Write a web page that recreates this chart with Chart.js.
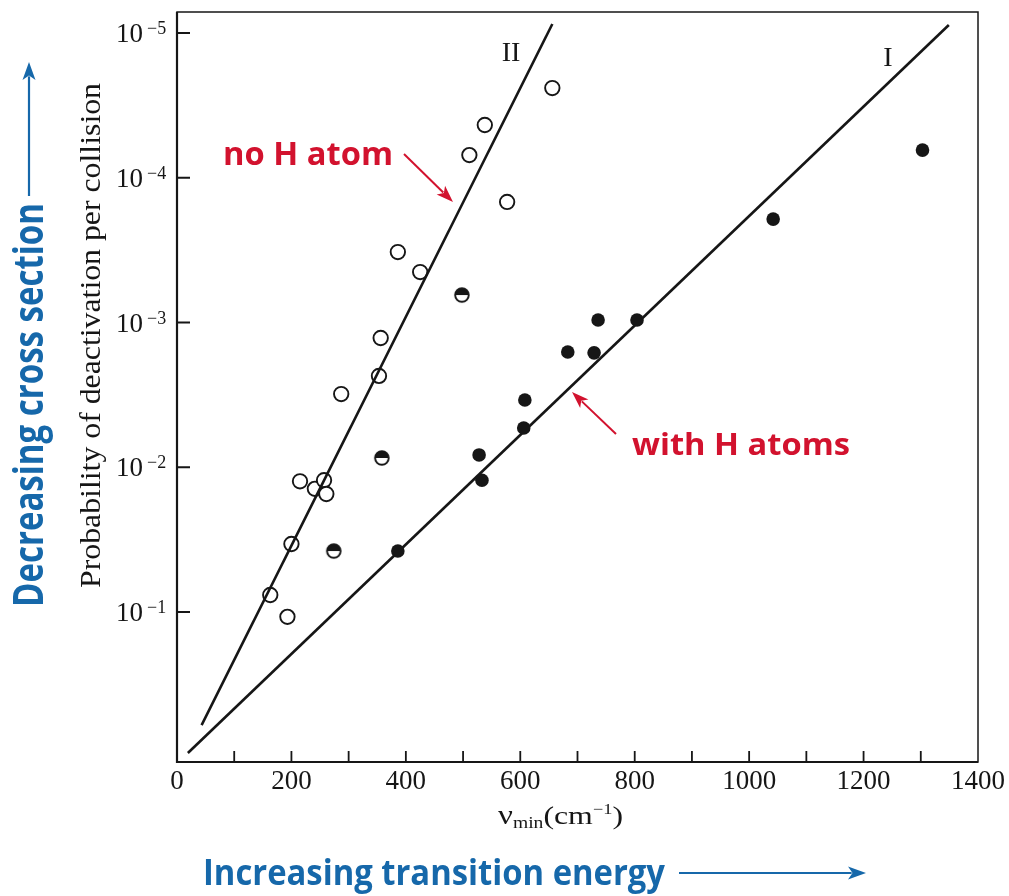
<!DOCTYPE html>
<html>
<head>
<meta charset="utf-8">
<script src="https://cdn.jsdelivr.net/npm/chart.js@4.4.1/dist/chart.umd.min.js"></script>
<style>
  html, body { margin: 0; padding: 0; background: #fff; }
  #wrap { width: 1009px; height: 896px; position: relative; }
</style>
</head>
<body>
<div id="wrap"><canvas id="chart"></canvas></div>
<script>
// nu_min (cm^-1) against probability of deactivation per collision
const openX = [163, 193, 200, 215, 241, 257, 261, 287, 353, 356, 386, 425, 511, 538, 577, 656];
const openY = [0.0763, 0.108, 0.0339, 0.0125, 0.0141, 0.0123, 0.0153, 0.00312, 0.00234, 0.00128,
               3.26e-4, 4.48e-4, 6.97e-5, 4.32e-5, 1.47e-4, 2.40e-5];
const halfX = [274, 358, 498];
const halfY = [0.0379, 0.00863, 6.46e-4];
const filledX = [386, 528, 533, 606, 608, 683, 729, 736, 804, 1042, 1303];
const filledY = [0.0379, 0.00822, 0.0123, 0.00536, 0.00343, 0.0016, 0.00162, 9.6e-4, 9.6e-4, 1.93e-4, 6.44e-5];

// fitted lines, end points
const lineIIX = [43, 656];
const lineIIY = [0.604, 8.67e-6];
const lineIX = [19, 1349];
const lineIY = [0.942, 8.8e-6];

const xTickValues = [0, 200, 400, 600, 800, 1000, 1200, 1400];
const xTickLabels = ['0', '200', '400', '600', '800', '1000', '1200', '1400'];
const yTickValues = [1e-1, 1e-2, 1e-3, 1e-4, 1e-5];
const yTickExponents = ['\u22121', '\u22122', '\u22123', '\u22124', '\u22125'];

const INK = '#161616';
const RED = '#d2122e';
const BLUE = '#1668aa';

function pts(xs, ys) {
  return xs.map((x, i) => ({ x: x, y: ys[i] }));
}

function halfDot() {
  const c = document.createElement('canvas');
  c.width = 18; c.height = 18;
  const g = c.getContext('2d');
  g.beginPath();
  g.arc(9, 9, 6.8, 0, 2 * Math.PI);
  g.fillStyle = '#fff';
  g.fill();
  g.beginPath();
  g.arc(9, 9, 6.8, Math.PI, 2 * Math.PI);
  g.closePath();
  g.fillStyle = INK;
  g.fill();
  g.beginPath();
  g.arc(9, 9, 6.8, 0, 2 * Math.PI);
  g.lineWidth = 1.9;
  g.strokeStyle = INK;
  g.stroke();
  return c;
}

function fitText(ctx, text, x, y, width, font, color, angle) {
  ctx.save();
  ctx.font = font;
  ctx.fillStyle = color;
  ctx.textAlign = 'left';
  ctx.textBaseline = 'alphabetic';
  ctx.translate(x, y);
  if (angle) ctx.rotate(angle);
  const w = ctx.measureText(text).width;
  ctx.scale(width / w, 1);
  ctx.fillText(text, 0, 0);
  ctx.restore();
}

function arrow(ctx, x1, y1, x2, y2, color, lw, hl, hw) {
  const a = Math.atan2(y2 - y1, x2 - x1);
  ctx.save();
  ctx.strokeStyle = color;
  ctx.fillStyle = color;
  ctx.lineWidth = lw;
  ctx.beginPath();
  ctx.moveTo(x1, y1);
  ctx.lineTo(x2 - Math.cos(a) * hl * 0.8, y2 - Math.sin(a) * hl * 0.8);
  ctx.stroke();
  ctx.translate(x2, y2);
  ctx.rotate(a);
  ctx.beginPath();
  ctx.moveTo(0, 0);
  ctx.lineTo(-hl, -hw / 2);
  ctx.lineTo(-hl * 0.75, 0);
  ctx.lineTo(-hl, hw / 2);
  ctx.closePath();
  ctx.fill();
  ctx.restore();
}

const decorations = {
  id: 'decorations',
  afterDraw(chart) {
    const ctx = chart.ctx;
    const a = chart.chartArea;
    const xs = chart.scales.x;
    const ys = chart.scales.y;

    // frame
    ctx.save();
    ctx.strokeStyle = INK;
    ctx.lineWidth = 1.5;
    ctx.strokeRect(a.left, a.top, a.right - a.left, a.bottom - a.top);
    ctx.lineWidth = 2.2;
    ctx.beginPath();
    ctx.moveTo(a.left, a.top);
    ctx.lineTo(a.left, a.bottom);
    ctx.lineTo(a.right, a.bottom);
    ctx.stroke();

    // inward tick marks
    ctx.lineWidth = 1.8;
    ctx.beginPath();
    xs.ticks.forEach(t => {
      if (t.value <= xs.min || t.value >= xs.max) return;
      const px = xs.getPixelForValue(t.value);
      ctx.moveTo(px, a.bottom);
      ctx.lineTo(px, a.bottom - 11);
    });
    ys.ticks.forEach(t => {
      const py = ys.getPixelForValue(t.value);
      ctx.moveTo(a.left, py);
      ctx.lineTo(a.left + 13, py);
    });
    ctx.stroke();
    ctx.restore();

    // y tick labels: 10 with a raised exponent
    ctx.save();
    ctx.fillStyle = INK;
    ctx.textBaseline = 'alphabetic';
    yTickValues.forEach((v, i) => {
      const py = ys.getPixelForValue(v);
      ctx.font = '27px "Liberation Serif"';
      ctx.textAlign = 'right';
      ctx.fillText('10', a.left - 34, py + 9);
      ctx.font = '18px "Liberation Serif"';
      ctx.textAlign = 'left';
      ctx.fillText(yTickExponents[i], a.left - 30, py + 1);
    });
    ctx.restore();

    // line names
    ctx.save();
    ctx.fillStyle = INK;
    ctx.textAlign = 'center';
    ctx.textBaseline = 'alphabetic';
    ctx.font = '28px "Liberation Serif"';
    ctx.fillText('II', 511, 61);
    ctx.fillText('I', 888, 66);
    ctx.restore();

    // axis titles
    fitText(ctx, 'Probability of deactivation per collision', 100, 588, 505,
            '30px "Liberation Serif"', INK, -Math.PI / 2);

    const parts = [
      { t: '\u03BD', size: 27, dy: 0 },
      { t: 'min', size: 16, dy: 4 },
      { t: '(cm', size: 26, dy: 0 },
      { t: '\u2212', size: 15, dy: -10 },
      { t: '1', size: 15, dy: -10 },
      { t: ')', size: 26, dy: 0 }
    ];
    ctx.save();
    ctx.fillStyle = INK;
    ctx.textBaseline = 'alphabetic';
    ctx.textAlign = 'left';
    let total = 0;
    parts.forEach(p => {
      ctx.font = p.size + 'px "Liberation Serif"';
      p.w = ctx.measureText(p.t).width;
      total += p.w;
    });
    const k = 125 / total;
    let cx = 498;
    parts.forEach(p => {
      ctx.font = p.size + 'px "Liberation Serif"';
      ctx.save();
      ctx.translate(cx, 824 + p.dy);
      ctx.scale(k, 1);
      ctx.fillText(p.t, 0, 0);
      ctx.restore();
      cx += p.w * k;
    });
    ctx.restore();

    // red notes
    fitText(ctx, 'no H atom', 223, 165, 170, 'bold 32px "Open Sans"', RED);
    arrow(ctx, 404, 154, 453, 202, RED, 2, 17, 12);
    fitText(ctx, 'with H atoms', 632, 455, 218, 'bold 31px "Open Sans"', RED);
    arrow(ctx, 616, 434, 572, 392, RED, 2, 17, 12);

    // blue notes
    fitText(ctx, 'Decreasing cross section', 43, 607, 404, 'bold 42px "Open Sans"', BLUE, -Math.PI / 2);
    arrow(ctx, 29, 196, 29, 62, BLUE, 2.2, 18, 13);
    fitText(ctx, 'Increasing transition energy', 203, 885, 462, 'bold 36px "Open Sans"', BLUE);
    arrow(ctx, 679, 873, 866, 873, BLUE, 2.2, 18, 13);
  }
};

const lineStyle = {
  showLine: true,
  borderColor: INK,
  borderWidth: 2.6,
  pointRadius: 0,
  fill: false
};

new Chart(document.getElementById('chart'), {
  type: 'scatter',
  data: {
    datasets: [
      Object.assign({ label: 'II', data: pts(lineIIX, lineIIY) }, lineStyle),
      Object.assign({ label: 'I', data: pts(lineIX, lineIY) }, lineStyle),
      {
        label: 'no H atom',
        data: pts(openX, openY),
        pointStyle: 'circle',
        pointRadius: 7.2,
        pointBorderWidth: 1.9,
        pointBorderColor: INK,
        pointBackgroundColor: '#fff'
      },
      {
        label: 'partial',
        data: pts(halfX, halfY),
        pointStyle: halfDot(),
        pointRadius: 7
      },
      {
        label: 'with H atoms',
        data: pts(filledX, filledY),
        pointStyle: 'circle',
        pointRadius: 6.8,
        pointBorderWidth: 0,
        pointBackgroundColor: INK
      }
    ]
  },
  options: {
    responsive: true,
    maintainAspectRatio: false,
    animation: false,
    layout: { padding: { top: 12, right: 29, left: 0, bottom: 0 } },
    plugins: {
      legend: { display: false },
      tooltip: { enabled: false }
    },
    scales: {
      x: {
        type: 'linear',
        min: 0,
        max: 1400,
        grid: { display: false, drawTicks: false },
        border: { display: false },
        ticks: {
          stepSize: 100,
          autoSkip: false,
          maxRotation: 0,
          padding: 4,
          color: INK,
          font: { family: '"Liberation Serif"', size: 27 },
          callback: v => {
            const i = xTickValues.indexOf(v);
            return i >= 0 ? xTickLabels[i] : '';
          }
        },
        afterFit: s => { s.height = 134; }
      },
      y: {
        type: 'logarithmic',
        reverse: true,
        min: 7.16e-6,
        max: 1.087,
        grid: { display: false, drawTicks: false },
        border: { display: false },
        afterBuildTicks: s => { s.ticks = yTickValues.map(v => ({ value: v })); },
        ticks: { display: false },
        afterFit: s => { s.width = 177; }
      }
    }
  },
  plugins: [decorations]
});
</script>
</body>
</html>
